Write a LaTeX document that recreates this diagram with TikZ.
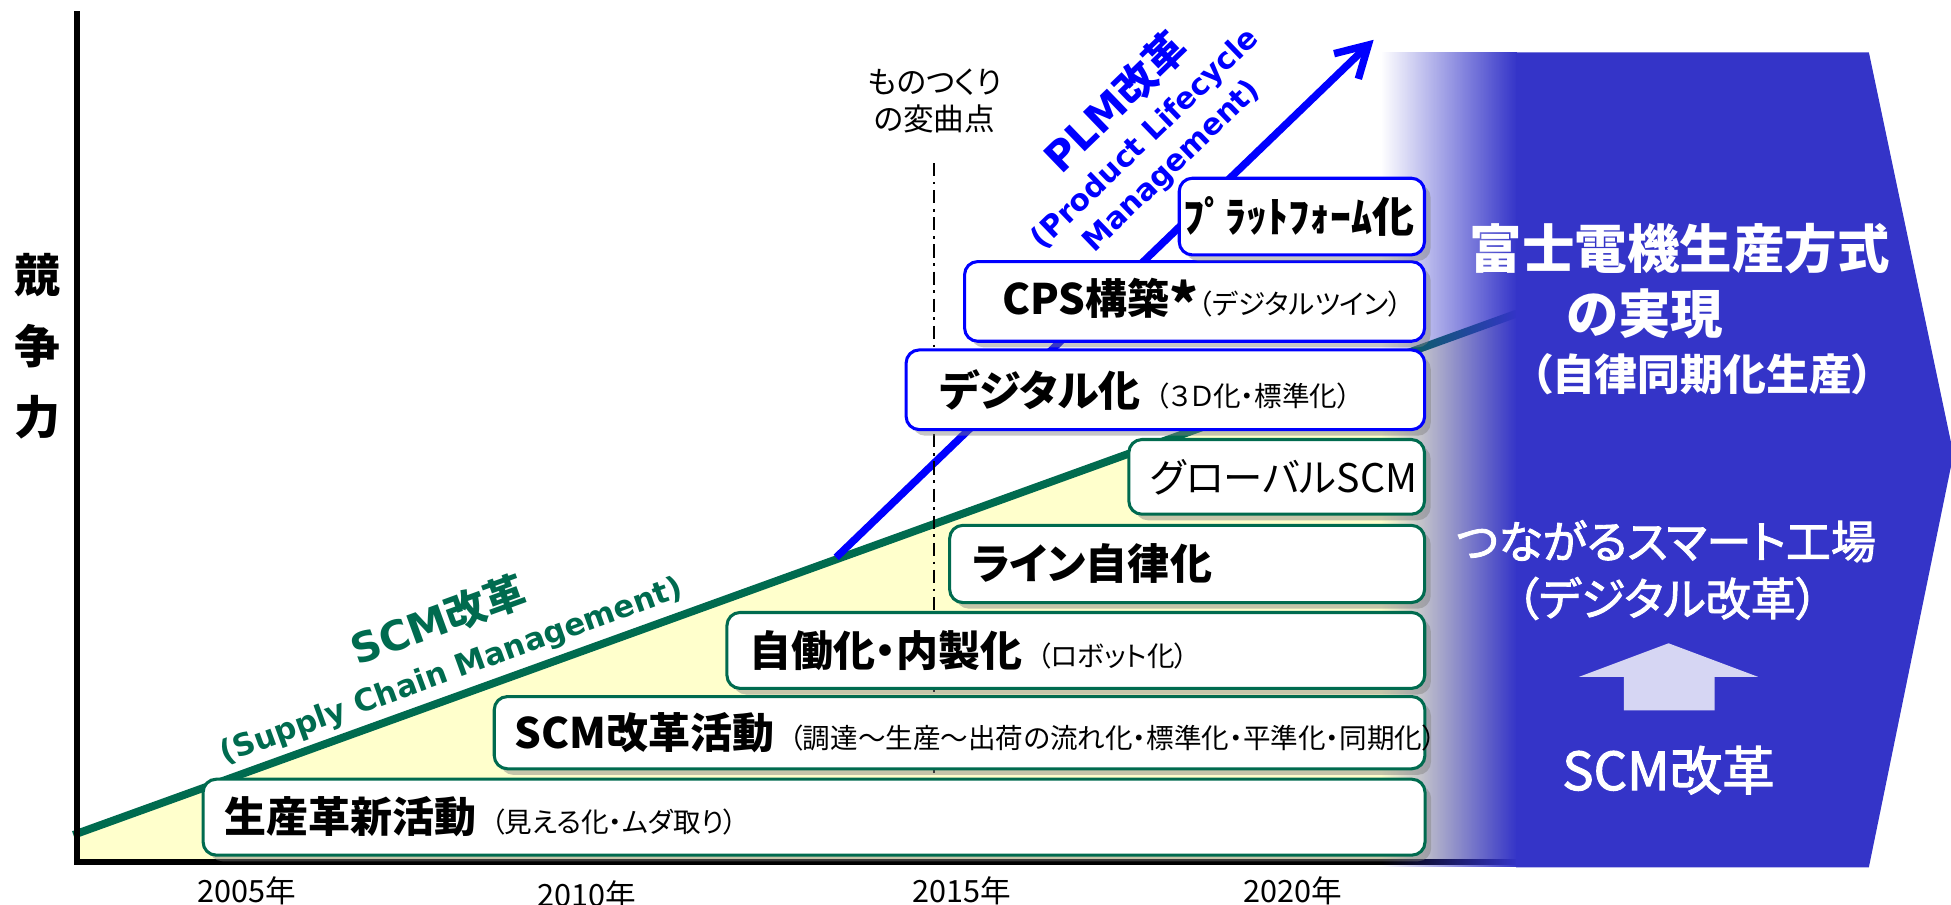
\documentclass[tikz,border=0pt]{standalone}
\usepackage{fontspec}
\setmainfont{Noto Sans CJK JP}[RawFeature=+palt]
\newfontfamily\medfont{Noto Sans CJK JP}[RawFeature=+palt, FakeBold=2]
\newfontfamily\verd{DejaVu Sans}
\usetikzlibrary{positioning,shadows,fadings,arrows.meta}
\definecolor{scmgreen}{HTML}{006B4F}
\definecolor{plmblue}{HTML}{0000FF}
\definecolor{fujiblue}{HTML}{3434C8}
\definecolor{paleyellow}{HTML}{FFFFCC}
\definecolor{palearrow}{HTML}{D6D6F3}
\tikzfading[name=fadeblue, left color=transparent!100, right color=transparent!0]
\newcommand{\boxhd}{\fontsize{9.6}{11}\selectfont\bfseries}
\newcommand{\boxsub}{\fontsize{6.3}{7}\selectfont\mdseries}

\begin{document}
\begin{tikzpicture}[x=0.01cm, y=-0.01cm]
  \tikzstyle{gbox}=[rectangle, rounded corners=3pt, draw=scmgreen, line width=0.7pt, fill=white, anchor=north west, align=left, inner ysep=0pt, drop shadow={shadow xshift=1.4pt, shadow yshift=-1.4pt, opacity=0.45}]
  \tikzstyle{bbox}=[gbox, draw=plmblue]
  \tikzstyle{yr}=[font=\fontsize{7}{8}\selectfont, inner sep=0pt]
  \tikzstyle{scmlbl}=[text=scmgreen, font=\fontsize{9.4}{11}\selectfont\bfseries, inner sep=0pt]
  \tikzstyle{scmsub}=[text=scmgreen, font=\verd\fontsize{7}{8}\selectfont\bfseries, inner sep=0pt]
  \tikzstyle{plmlbl}=[scmlbl, text=plmblue]
  \tikzstyle{plmsub}=[scmsub, text=plmblue, font=\verd\fontsize{6.8}{8}\selectfont\bfseries]
  \tikzstyle{wlbl}=[text=white, inner sep=0pt]

  \useasboundingbox (0,0) rectangle (1568,727);

  % SCM / PLM lines
  \coordinate (scm0) at (59,671);
  \coordinate (scm1) at (1219,252);
  \coordinate (plm0) at (672,448);
  \coordinate (plm1) at (1104,32);
  \fill[paleyellow] (scm0) -- (scm1) -- (1219,693) -- (62,693) -- cycle;
  \draw[scmgreen, line width=1.8pt] (scm0) -- (scm1);
  \draw[plmblue, line width=1.7pt, -{Straight Barb[length=7pt,width=8pt]}] (plm0) -- (plm1);

  \coordinate (turn0) at (751,131);
  \coordinate (turn1) at (751,690);
  \draw[line width=0.45pt, dash pattern=on 3pt off 1.3pt on 0.6pt off 1.3pt] (turn0) -- (turn1);

  % axes
  \coordinate (top) at (62,9);
  \coordinate (origin) at (62,693);
  \coordinate (right) at (1219,693);
  \draw[line width=1.3pt] (top) -- (origin) -- (right);

  % blue region
  \fill[fujiblue, path fading=fadeblue] (1110,42) rectangle (1219,697);
  \fill[fujiblue] (1218.5,42) -- (1502,42) -- (1570,365) -- (1502,697) -- (1218.5,697) -- cycle;

  % steps
  \node[gbox, minimum height=0.61cm, text width=9.475cm, inner xsep=0.17cm] (seisan) at (162,625)
    {\mbox{{\boxhd 生産革新活動}\ {\boxsub（見える化・ムダ取り）}}};
  \node[gbox, minimum height=0.58cm, text width=7.145cm, inner xsep=0.165cm] (scmact) at (396,558.6)
    {\mbox{{\boxhd SCM改革活動}\ {\boxsub（調達～生産～出荷の流れ化・標準化・平準化・同期化）}}};
  \node[gbox, minimum height=0.61cm, text width=5.245cm, inner xsep=0.18cm] (jido) at (583,491)
    {\mbox{{\boxhd 自働化・内製化}\ {\boxsub（ロボット化）}}};
  \node[gbox, minimum height=0.62cm, text width=3.463cm, inner xsep=0.176cm] (line) at (762,421)
    {\mbox{\boxhd ライン自律化}};
  \node[gbox, minimum height=0.60cm, text width=2.035cm, inner xsep=0.17cm] (global) at (906,352)
    {\mbox{\fontsize{9}{10}\selectfont グローバルSCM}};
  \node[bbox, minimum height=0.64cm, text width=3.625cm, inner xsep=0.27cm] (digital) at (727,280)
    {\mbox{{\boxhd デジタル化}\ {\boxsub（３Ｄ化・標準化）}}};
  \node[bbox, minimum height=0.64cm, text width=3.085cm, inner xsep=0.305cm] (cps) at (774,209)
    {\mbox{{\boxhd CPS構築\raisebox{-2.2pt}{\fontsize{12.5}{12}\selectfont*}}{\boxsub（デジタルツイン）}}};
  \node[bbox, minimum height=0.616cm, text width=1.9cm, inner xsep=0.035cm] (platform) at (946.5,142)
    {\mbox{\boxhd ﾌﾟﾗｯﾄﾌｫｰﾑ化}};

  % labels
  \node[font=\fontsize{10.5}{16.2}\selectfont\bfseries, align=center, inner sep=0pt] (kyoso) at (30.5,278) {競\\争\\力};
  \node[font=\fontsize{7}{8.6}\selectfont, align=center, inner sep=0pt] (henka) at (751,81) {ものつくり\\の変曲点};

  \node[yr] (y2005) at (198,716) {2005年};
  \node[yr] (y2010) at (472,719) {2010年};
  \node[yr] (y2015) at (773,716) {2015年};
  \node[yr] (y2020) at (1039,716) {2020年};

  \node[scmlbl, rotate=20] (scmt) at (352,498) {{\verd SCM}改革};
  \node[scmsub, rotate=20] (scms) at (363,540) {(Supply Chain Management)};
  \node[plmlbl, rotate=44] (plmt) at (896,82) {{\verd PLM}改革};
  \node[plmsub, rotate=44] (plms1) at (921,112) {(Product Lifecycle};
  \node[plmsub, rotate=44] (plms2) at (942,134) {Management)};

  % blue region texts
  \node[wlbl, font=\fontsize{12}{14}\selectfont\bfseries] (fuji1) at (1350,200) {富士電機生産方式};
  \node[wlbl, font=\fontsize{12}{14}\selectfont\bfseries] (fuji2) at (1322,252) {の実現};
  \node[wlbl, font=\fontsize{9.8}{12}\selectfont\bfseries] (fuji3) at (1368,301) {（自律同期化生産）};
  \node[wlbl, font=\medfont\fontsize{10.3}{12}\selectfont] (smart1) at (1339,435) {つながるスマート工場};
  \node[wlbl, font=\medfont\fontsize{10.3}{12}\selectfont] (smart2) at (1340,481) {（デジタル改革）};
  \fill[palearrow] (1341,517) -- (1413,544) -- (1378,544) -- (1378,571) -- (1305,571) -- (1305,544) -- (1269,544) -- cycle;
  \node[wlbl, font=\medfont\fontsize{12}{14}\selectfont] (scmw) at (1341,619) {SCM改革};
\end{tikzpicture}
\end{document}
